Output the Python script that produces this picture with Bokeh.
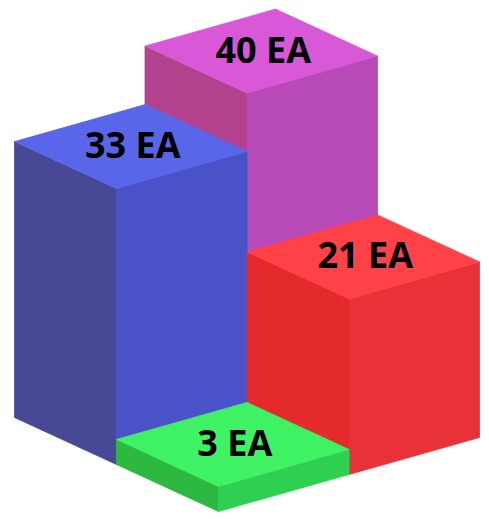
from bokeh.plotting import figure
from bokeh.models import Range1d, ColumnDataSource
from bokeh.core.properties import value
from bokeh.embed import file_html
from bokeh.resources import INLINE

# ---- data ----
labels = ["40 EA", "33 EA", "21 EA", "3 EA"]
values = [40, 33, 21, 3]
grid_a = [0, 0, 1, 1]   # position along the right-down axis
grid_b = [1, 0, 1, 0]   # position along the right-up axis
top_colors = ["#D858D8", "#5A66EA", "#FF4248", "#3EF264"]
left_colors = ["#B3428E", "#474896", "#E42A2A", "#2DB83F"]
right_colors = ["#B84AB8", "#4A52C8", "#E83238", "#2FD052"]

# ---- projection (screen-space layout) ----
OX, OY = 14.0, 417.0
UX, UY = 102.0, 47.0
VX, VY = 130.5, -37.0
K = 8.36  # pixels per unit of value

p = figure(width=481, height=515, output_backend="svg", toolbar_location=None,
           x_range=Range1d(0, 481), y_range=Range1d(515, 0), min_border=0)
p.axis.visible = False
p.grid.visible = False
p.outline_line_color = None
p.background_fill_color = "white"
p.border_fill_color = "white"

order = sorted(range(len(values)), key=lambda i: grid_a[i] - grid_b[i])

xs, ys, cols = [], [], []
tx, ty, tt = [], [], []
for i in order:
    a, b, h = grid_a[i], grid_b[i], values[i] * K
    Lx, Ly = OX + a * UX + b * VX, OY + a * UY + b * VY
    Fx, Fy = Lx + UX, Ly + UY
    Rx, Ry = Fx + VX, Fy + VY
    Bx, By = Lx + VX, Ly + VY
    # left face
    xs.append([Lx, Fx, Fx, Lx]); ys.append([Ly, Fy, Fy - h, Ly - h]); cols.append(left_colors[i])
    # right face
    xs.append([Fx, Rx, Rx, Fx]); ys.append([Fy, Ry, Ry - h, Fy - h]); cols.append(right_colors[i])
    # top face
    xs.append([Lx, Fx, Rx, Bx]); ys.append([Ly - h, Fy - h, Ry - h, By - h]); cols.append(top_colors[i])
    tx.append((Lx + Fx + Rx + Bx) / 4)
    ty.append((Ly + Fy + Ry + By) / 4 - h)
    tt.append(labels[i])

src = ColumnDataSource(dict(xs=xs, ys=ys, c=cols))
p.patches("xs", "ys", source=src, fill_color="c", line_color="c", line_width=0.8)

tsrc = ColumnDataSource(dict(x=tx, y=ty, t=tt))
p.text("x", "y", text="t", source=tsrc, text_align="center", text_baseline="middle",
       x_offset=2, y_offset=-2, text_font=value("Open Sans"), text_font_style="bold",
       text_font_size="36px", text_color="black")

open("out.html", "w").write(file_html(p, INLINE))
